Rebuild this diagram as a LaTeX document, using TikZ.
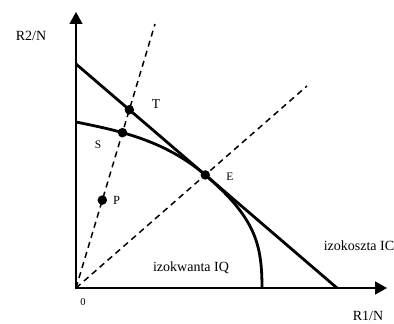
\documentclass[tikz,border=0pt]{standalone}
\usepackage{fontspec}
\setmainfont{Liberation Serif}
\usetikzlibrary{arrows.meta,intersections,calc}

\begin{document}
\begin{tikzpicture}[x=1pt,y=1pt,
		ax/.style={{Triangle[length=12pt,width=13pt]}-{Triangle[length=12pt,width=13pt]},
			line width=1.6pt,line join=miter},
		thk/.style={line width=2.8pt},
		ray/.style={line width=1.5pt,dash pattern=on 6pt off 4.5pt},
		dot/.style={circle,fill=black,inner sep=0pt,minimum size=9.5pt},
		lbl/.style={font=\fontsize{14}{16}\selectfont,inner sep=0pt,anchor=base},
		sml/.style={font=\fontsize{11.5}{13}\selectfont,inner sep=0pt,anchor=base}]
	
	\useasboundingbox (0,0) rectangle (394,324);
	
	% ============ Achsen ============
	\coordinate (O) at (76,36);
	\coordinate (ytip) at (76,312);
	\coordinate (xtip) at (387,36);
	\draw[ax] (ytip) -- (O) -- (xtip);
	\node[lbl] (ylab) at (31,283) {R2/N};
	\node[lbl] (xlab) at (368,3.5) {R1/N};
	\node[sml,font=\fontsize{10.5}{12}\selectfont] (zero) at (83,18.5) {0};
	
	% ============ Strahlen ============
	\coordinate (r1end) at (155,300);
	\coordinate (r2end) at (307,238);
	\draw[ray,name path=r1] (O) -- (r1end);
	\draw[ray,name path=r2] (O) -- (r2end);
	
	% ============ Izokoszta ============
	\coordinate (ica) at (76,260);
	\coordinate (icb) at (337,36);
	\draw[thk,name path=ic] (ica) -- (icb);
	\path[name intersections={of=r1 and ic,by=iT}];
	\path[name intersections={of=r2 and ic,by=iE}];
	
	% ============ Izokwanta ============
	% tangent at E with the slope of IC, vertical where it meets the x axis
	\coordinate (iqa) at (76,202);
	\coordinate (iqb) at (262,36);
	\draw[thk,name path=iq] (iqa) .. controls (115,194) and ($(iE)+(-42,36)$) .. (iE)
		.. controls ($(iE)+(50,-42.9)$) and (262,80) .. (iqb);
	\path[name intersections={of=r1 and iq,by=iS}];
	
	% ============ Punkte ============
	\node[dot] (dT) at (iT) {};
	\node[dot] (dS) at (iS) {};
	\node[dot] (dE) at (iE) {};
	\node[dot] (dP) at ($(O)!0.333!(r1end)$) {};
	\node[lbl,font=\fontsize{13.5}{15}\selectfont] (lT) at (156,215.5) {T};
	\node[sml] (lS) at (98,175.5) {S};
	\node[sml] (lE) at (230,143) {E};
	\node[lbl,font=\fontsize{12.5}{14}\selectfont] (lP) at (116.5,119) {P};
	
	\node[lbl] (lIQ) at (191,52.3) {izokwanta IQ};
	\node[lbl] (lIC) at (359,73.3) {izokoszta IC};
	
\end{tikzpicture}
\end{document}
